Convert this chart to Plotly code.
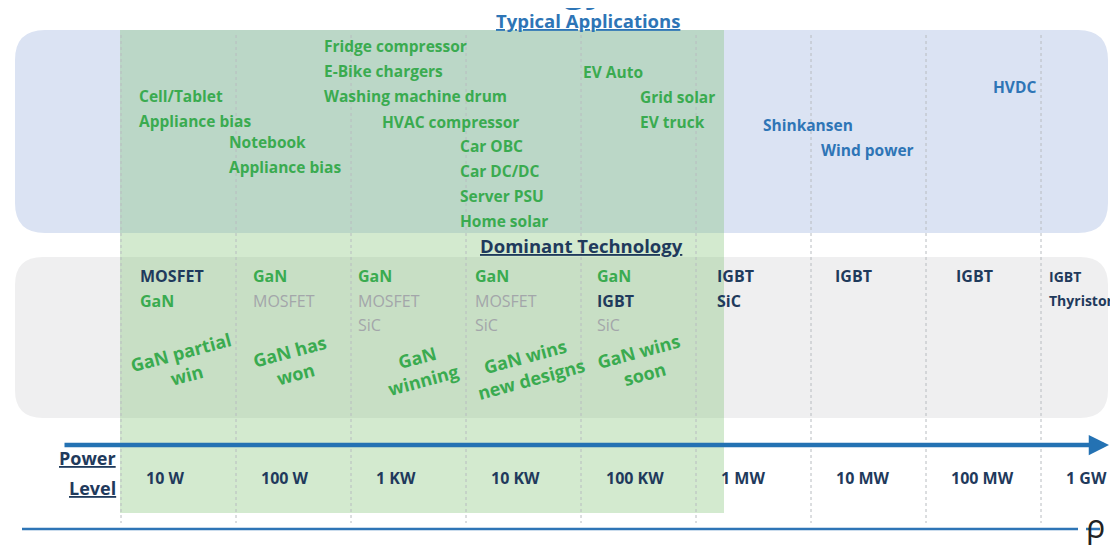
"""Power level vs typical applications and dominant switching technology."""

import plotly.graph_objects as go

# ---- data -------------------------------------------------------------
POWER_LEVELS = ["10 W", "100 W", "1 KW", "10 KW", "100 KW", "1 MW", "10 MW", "100 MW", "1 GW"]

APPS_10W = ["Cell/Tablet", "Appliance bias"]
APPS_100W = ["Notebook", "Appliance bias"]
APPS_1KW = ["Fridge compressor", "E-Bike chargers", "Washing machine drum"]
APPS_1KW_HV = ["HVAC compressor"]
APPS_10KW = ["Car OBC", "Car DC/DC", "Server PSU", "Home solar"]
APPS_100KW = ["EV Auto"]
APPS_100KW_HV = ["Grid solar", "EV truck"]
APPS_1MW = ["Shinkansen"]
APPS_10MW = ["Wind power"]
APPS_100MW = ["HVDC"]

TECH_NAMES = [
    ["MOSFET", "GaN"],
    ["GaN", "MOSFET"],
    ["GaN", "MOSFET", "SiC"],
    ["GaN", "MOSFET", "SiC"],
    ["GaN", "IGBT", "SiC"],
    ["IGBT", "SiC"],
    ["IGBT"],
    ["IGBT"],
    ["IGBT", "Thyristor"],
]
TECH_ROLES = [
    ["lead", "gan"],
    ["gan", "fade"],
    ["gan", "fade", "fade"],
    ["gan", "fade", "fade"],
    ["gan", "lead", "fade"],
    ["lead", "lead"],
    ["lead"],
    ["lead"],
    ["lead", "lead"],
]
GAN_VERDICT = ["GaN partial<br>win", "GaN has<br>won", "GaN<br>winning",
               "GaN wins<br>new designs", "GaN wins<br>soon"]

# ---- style ------------------------------------------------------------
W, H = 1118, 545
OFF = 8  # page body margin, compensated so axis units == window pixels
VIS_RIGHT = 1110  # right edge that actually shows in the window
FONT = "Open Sans"
GREEN = "#3aab50"
NAVY = "#1f3a5c"
GREY_TXT = "#a3a6aa"
BLUE = "#2e75b6"
ROLE_COLOR = {"lead": NAVY, "gan": GREEN, "fade": GREY_TXT}

COL_LEFT, COL_W = 121, 115.0
GAN_RIGHT = 724


def col_x(i):
    return COL_LEFT + COL_W * i


def rounded(x0, y0, x1, y1, r):
    return (f"M{x0 + r},{y0} L{x1 - r},{y0} Q{x1},{y0} {x1},{y0 + r} "
            f"L{x1},{y1 - r} Q{x1},{y1} {x1 - r},{y1} L{x0 + r},{y1} "
            f"Q{x0},{y1} {x0},{y1 - r} L{x0},{y0 + r} Q{x0},{y0} {x0 + r},{y0} Z")


fig = go.Figure()

# dashed column separators
sep_x, sep_y = [], []
for i in range(len(POWER_LEVELS)):
    sep_x += [col_x(i), col_x(i), None]
    sep_y += [35, 523, None]
fig.add_trace(go.Scatter(x=sep_x, y=sep_y, mode="lines", hoverinfo="skip",
                         line=dict(color="#b8bcc0", width=1, dash="3px,3px")))

shapes = [
    dict(type="path", path=rounded(15, 30, 1108, 233, 30), fillcolor="#dbe3f3",
         line=dict(width=0), layer="below"),
    dict(type="path", path=rounded(15, 257, 1108, 418, 28), fillcolor="#efeff0",
         line=dict(width=0), layer="below"),
    dict(type="rect", x0=COL_LEFT - 1, x1=GAN_RIGHT, y0=30, y1=513,
         fillcolor="rgba(120,190,110,0.33)", line=dict(width=0), layer="below"),
    dict(type="line", x0=22, x1=1078, y0=529, y1=529, line=dict(color=BLUE, width=2.5)),
    dict(type="line", x0=1086, x1=1100, y0=529, y1=529, line=dict(color=BLUE, width=2.5)),
]

ann = []


def text(x, y, s, color, size=15.5, anchor="left", bold=True, **kw):
    ann.append(dict(x=x, y=y, text=f"<b>{s}</b>" if bold else s, showarrow=False,
                    xanchor=anchor, yanchor="middle",
                    font=dict(family=FONT, size=size, color=color), **kw))


# title (mostly cropped above the frame)
ann.append(dict(x=609, y=14, text="<b>Power Level vs. Dominant Technology</b>",
                showarrow=False, xanchor="right", yanchor="bottom",
                font=dict(family=FONT, size=38, color=BLUE)))

# section headers
text(588, 20, "<u>Typical Applications</u>", BLUE, size=18.5, anchor="center")
text(581, 245, "<u>Dominant Technology</u>", NAVY, size=18.5, anchor="center")
text(118, 458, "<u>Power</u>", NAVY, size=18, anchor="right")
text(118, 488, "<u>Level</u>", NAVY, size=18, anchor="right")

# applications
app_groups = [
    (APPS_10W, 137, 96, GREEN), (APPS_100W, 227, 142, GREEN),
    (APPS_1KW, 322, 46, GREEN), (APPS_1KW_HV, 380, 122, GREEN),
    (APPS_10KW, 458, 146, GREEN), (APPS_100KW, 581, 72, GREEN),
    (APPS_100KW_HV, 638, 97, GREEN), (APPS_1MW, 761, 125, BLUE),
    (APPS_10MW, 819, 150, BLUE), (APPS_100MW, 991, 87, BLUE),
]
for items, x, y0, c in app_groups:
    for k, s in enumerate(items):
        text(x, y0 + 25 * k, s, c)

# dominant technology per column
tech_dx = [17, 15, 5, 7, 14, 19, 22, 28, 6]
tech_size = [16, 16, 16, 16, 16, 16, 16, 16, 14]
for i, (names, roles) in enumerate(zip(TECH_NAMES, TECH_ROLES)):
    for k, (s, r) in enumerate(zip(names, roles)):
        text(col_x(i) + tech_dx[i], 276 + 24.5 * k, s, ROLE_COLOR[r], size=tech_size[i],
             bold=(r != "fade"))

# GaN verdict (tilted)
verdict_pos = [(183, 363), (292, 362), (420, 368), (528, 367), (641, 362)]
for s, (x, y) in zip(GAN_VERDICT, verdict_pos):
    text(x, y, s, GREEN, size=18, anchor="center", textangle=-15)

# power axis
for i, s in enumerate(POWER_LEVELS):
    text(col_x(i) + 23, 478, s, NAVY, size=16)

ann.append(dict(x=VIS_RIGHT - 1, y=445, ax=63, ay=445, axref="x", ayref="y",
                xref="x", yref="y", text="", showarrow=True, arrowhead=2,
                arrowsize=0.9, arrowwidth=4.5, arrowcolor="#2472b3"))

# logo
text(1095, 525, "ρ", "#222222", size=32, anchor="center", bold=False)

fig.update_layout(
    width=W - OFF, height=H - OFF, margin=dict(l=0, r=0, t=0, b=0),
    paper_bgcolor="white", plot_bgcolor="white", showlegend=False,
    xaxis=dict(range=[OFF, W], visible=False, fixedrange=True),
    yaxis=dict(range=[H, OFF], visible=False, fixedrange=True),
    shapes=shapes, annotations=ann,
)

fig.write_html("out.html")
